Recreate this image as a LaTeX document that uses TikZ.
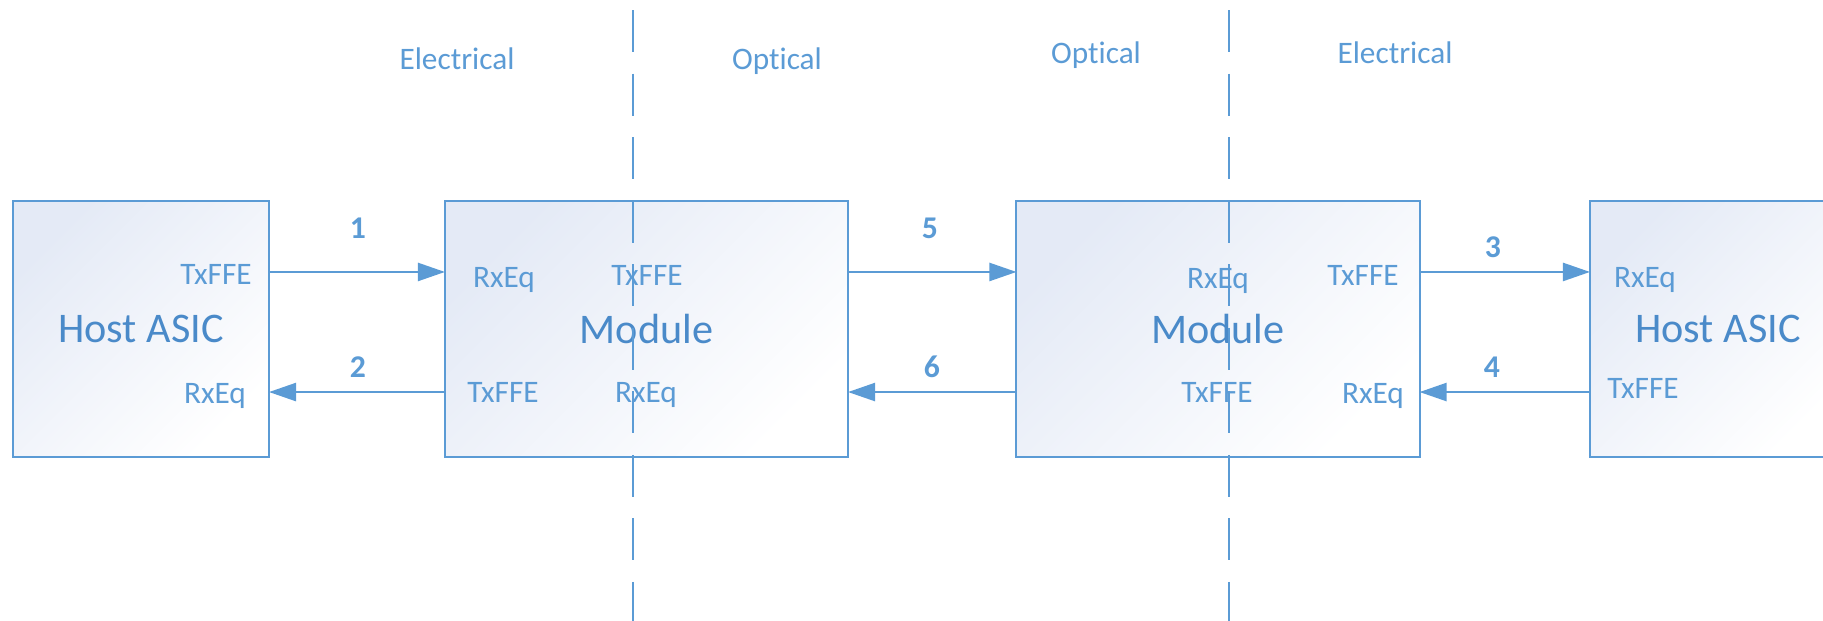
\documentclass[tikz,border=0pt]{standalone}
\usepackage{fontspec}
\setmainfont{Carlito}[Ligatures=NoCommon]
\usetikzlibrary{arrows.meta}
\definecolor{linkblue}{HTML}{5B9BD5}
\definecolor{textblue}{HTML}{5B9BD5}
\definecolor{nameblue}{HTML}{4A8AC9}
\definecolor{shadeblue}{HTML}{E4EAF6}

\begin{document}
\begin{tikzpicture}[x=0.01cm, y=-0.01cm,
	block/.style={draw=linkblue, line width=0.6pt, top color=shadeblue, bottom color=white,
				  shading angle=45, minimum height=2.56cm, inner sep=0pt, outer sep=0pt,
				  text=nameblue, font=\fontsize{12}{14}\selectfont},
	host/.style={block, minimum width=2.56cm},
	module/.style={block, minimum width=4.03cm},
	port/.style={anchor=base, inner sep=0pt, text=textblue, font=\fontsize{8.9}{10}\selectfont},
	lane/.style={anchor=base, inner sep=0pt, text=textblue, font=\bfseries\fontsize{9}{11}\selectfont},
	zonelabel/.style={anchor=base, inner sep=0pt, text=textblue, font=\fontsize{8.9}{10}\selectfont},
	wire/.style={draw, color=linkblue, line width=0.5pt, -{Triangle[length=7.7pt, width=5.2pt]}},
	cutline/.style={draw=linkblue, line width=0.55pt, dash pattern=on 0.42cm off 0.215cm}]
	\useasboundingbox (0,0) rectangle (1823,621);
	\clip (0,0) rectangle (1823,621);

	% hosts and modules
	\node[host] (h1) at (141, 329) {Host ASIC};
	\node[module] (m1) at (646.5, 329) {Module};
	\node[module] (m2) at (1218, 329) {Module};
	\node[host] (h2) at (1718, 329) {Host ASIC};

	% electrical / optical boundaries
	\coordinate (cut1top) at (633, 10);
	\coordinate (cut1bot) at (633, 621);
	\coordinate (cut2top) at (1229, 10);
	\coordinate (cut2bot) at (1229, 621);
	\draw[cutline] (cut1top) -- (cut1bot);
	\draw[cutline] (cut2top) -- (cut2bot);

	\node[zonelabel] (d1) at (457, 70) {Electrical};
	\node[zonelabel] (d2) at (777, 70) {Optical};
	\node[zonelabel] (d3) at (1096, 64) {Optical};
	\node[zonelabel] (d4) at (1395, 64) {Electrical};

	% equalizer blocks
	\node[port] (h1tx) at (216, 284) {TxFFE};
	\node[port] (h1rx) at (215, 403) {RxEq};
	\node[port] (m1rxa) at (504, 287) {RxEq};
	\node[port] (m1txa) at (647, 285) {TxFFE};
	\node[port] (m1txb) at (503, 402) {TxFFE};
	\node[port] (m1rxb) at (646, 402) {RxEq};
	\node[port] (m2rxa) at (1218, 288) {RxEq};
	\node[port] (m2txa) at (1363, 285) {TxFFE};
	\node[port] (m2txb) at (1217, 402) {TxFFE};
	\node[port] (m2rxb) at (1373, 403) {RxEq};
	\node[port] (h2rx) at (1645, 287) {RxEq};
	\node[port] (h2tx) at (1643, 398) {TxFFE};

	% lane numbers
	\node[lane] (n1) at (358, 238) {1};
	\node[lane] (n2) at (358, 377) {2};
	\node[lane] (n5) at (930, 238) {5};
	\node[lane] (n6) at (932, 377) {6};
	\node[lane] (n3) at (1493, 257) {3};
	\node[lane] (n4) at (1492, 377) {4};

	\path ([yshift=0.57cm]h1.east)  edge[wire]  ([yshift=0.57cm]m1.west);
	\path ([yshift=-0.63cm]m1.west) edge[wire]  ([yshift=-0.63cm]h1.east);
	\path ([yshift=0.57cm]m1.east)  edge[wire]  ([yshift=0.57cm]m2.west);
	\path ([yshift=-0.63cm]m2.west) edge[wire]  ([yshift=-0.63cm]m1.east);
	\path ([yshift=0.57cm]m2.east)  edge[wire]  ([yshift=0.57cm]h2.west);
	\path ([yshift=-0.63cm]h2.west) edge[wire]  ([yshift=-0.63cm]m2.east);

\end{tikzpicture}
\end{document}
